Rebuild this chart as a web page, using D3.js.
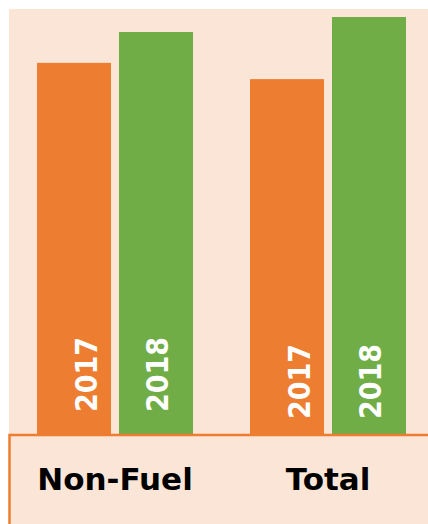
<!DOCTYPE html>
<html>
<head>
<meta charset="utf-8">
<script src="https://cdn.jsdelivr.net/npm/d3@7"></script>
<style>
  body { margin: 0; background: #fff; }
</style>
</head>
<body>
<div id="chart"></div>
<script>
// chart data
const categories = ["Non-Fuel", "Total"];
const years = ["2017", "2018"];
const values2017 = [8.9, 8.51];
const values2018 = [9.64, 10.0];

const colors = { "2017": "#ED7D31", "2018": "#70AD47" };

const width = 428, height = 524;
const panelLeft = 9, panelTop = 9, baseY = 435;

const data = categories.map((c, i) => ({
  category: c,
  bars: [
    { year: "2017", value: values2017[i], category: c },
    { year: "2018", value: values2018[i], category: c }
  ]
}));

const svg = d3
  .select("#chart")
  .append("svg")
  .attr("width", width)
  .attr("height", height);

// background panel
svg.append("rect")
  .attr("x", panelLeft)
  .attr("y", panelTop)
  .attr("width", width - panelLeft)
  .attr("height", height - panelTop)
  .attr("fill", "#FBE5D6");

const x0 = d3.scaleBand()
  .domain(categories)
  .range([37, 406])
  .paddingInner(57 / 213)
  .paddingOuter(0);

const x1 = d3.scaleBand()
  .domain(years)
  .range([0, x0.bandwidth()])
  .paddingInner(8 / 82)
  .paddingOuter(0);

const y = d3.scaleLinear()
  .domain([0, 10])
  .range([baseY - 1, 17]);

const groups = svg.selectAll(".group")
  .data(data)
  .join("g")
  .attr("class", "group")
  .attr("transform", d => `translate(${x0(d.category)},0)`);

groups.selectAll("rect")
  .data(d => d.bars)
  .join("rect")
  .attr("x", d => x1(d.year))
  .attr("y", d => y(d.value))
  .attr("width", x1.bandwidth())
  .attr("height", d => y(0) - y(d.value))
  .attr("fill", d => colors[d.year]);

// rotated year labels inside the bars
groups.selectAll(".year")
  .data(d => d.bars)
  .join("text")
  .attr("class", "year")
  .attr("transform", d => {
    const cx = x1(d.year) + x1.bandwidth() / 2 + (d.year === "2017" ? 12 : 1);
    const cy = d.category === "Total" ? 419 : 412;
    return `translate(${cx},${cy}) rotate(-90)`;
  })
  .attr("dy", "0.36em")
  .attr("fill", "#fff")
  .attr("textLength", 75)
  .attr("lengthAdjust", "spacingAndGlyphs")
  .style("font-family", "'DejaVu Sans', sans-serif")
  .style("font-weight", "bold")
  .style("font-size", "31px")
  .text(d => d.year);

// bottom category panel border
svg.append("path")
  .attr("d", `M${panelLeft + 0.5},${height} V${baseY} H${width}`)
  .attr("fill", "none")
  .attr("stroke", "#ED7D31")
  .attr("stroke-width", 2.5);

// category labels
svg.selectAll(".cat")
  .data(categories)
  .join("text")
  .attr("class", "cat")
  .attr("x", d => x0(d) + x0.bandwidth() / 2)
  .attr("y", 490)
  .attr("text-anchor", "middle")
  .attr("fill", "#000")
  .style("font-family", "'DejaVu Sans', sans-serif")
  .style("font-weight", "bold")
  .style("font-size", "31px")
  .text(d => d);
</script>
</body>
</html>
